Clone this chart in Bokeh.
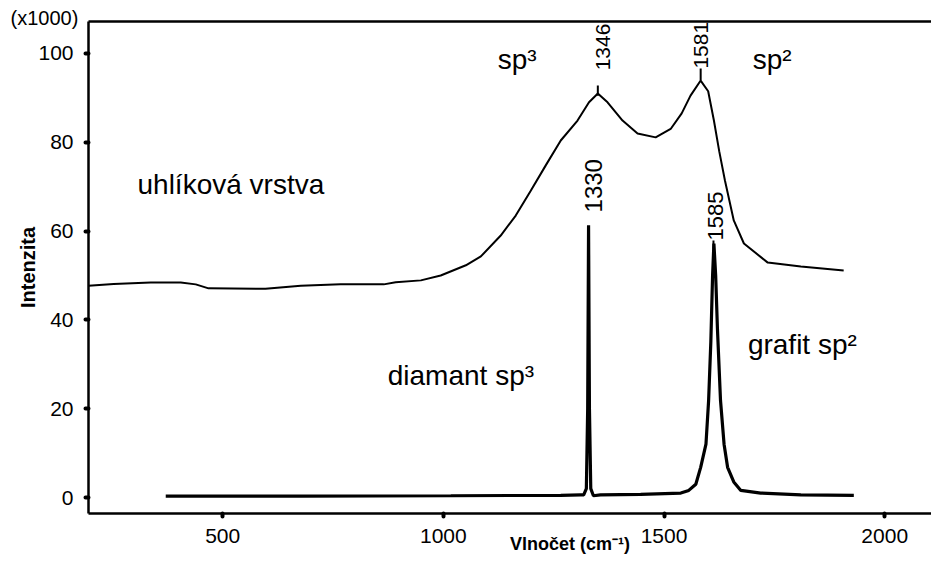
from bokeh.plotting import figure
from bokeh.models import Range1d, LinearAxis, FixedTicker, Label
from bokeh.embed import file_html
from bokeh.resources import INLINE

# ---- data ----
# carbon layer spectrum (uhlíková vrstva), intensity x1000
carbon_x = [196, 253, 337, 405, 439, 468, 597, 677, 767, 865, 892, 949, 994,
            1051, 1085, 1130, 1164, 1198, 1232, 1266, 1304, 1330, 1350, 1372,
            1406, 1440, 1481, 1515, 1540, 1560, 1583, 1600, 1613, 1625, 1638,
            1658, 1681, 1735, 1810, 1907]
carbon_y = [47.7, 48.1, 48.4, 48.4, 48.0, 47.1, 47.0, 47.7, 48.0, 48.0, 48.5, 48.9, 50.0,
            52.3, 54.3, 59.0, 63.5, 69.1, 74.8, 80.4, 84.9, 89.0, 91.0, 89.0,
            84.9, 82.0, 81.1, 83.0, 86.5, 90.5, 93.9, 91.5, 84.9, 78.0, 71.4,
            62.4, 57.2, 52.9, 52.0, 51.1]

# diamond + graphite spectrum
dg_x = [371, 677, 1017, 1266, 1311, 1318, 1324, 1327, 1329, 1331, 1334, 1340,
        1356, 1447, 1538, 1556, 1572, 1583, 1595, 1601, 1606, 1610, 1613, 1617,
        1621, 1628, 1636, 1644, 1658, 1674, 1719, 1810, 1930]
dg_y = [0.3, 0.3, 0.4, 0.5, 0.6, 0.6, 2.0, 20.0, 61.3, 20.0, 2.0, 0.4,
        0.6, 0.7, 1.0, 1.6, 3.0, 6.8, 12.0, 21.8, 35.0, 50.0, 57.2, 50.0,
        38.0, 21.8, 12.0, 6.8, 3.5, 1.6, 1.0, 0.6, 0.5]

x_ticks = [500, 1000, 1500, 2000]
y_ticks = [0, 20, 40, 60, 80, 100]

# peak annotations
peak_labels = ["1346", "1581", "1330", "1585"]
peak_label_x = [1362, 1583, 1341, 1617]
peak_label_y = [96.2, 96.6, 64.2, 57.9]
peak_label_size = ["21px", "21px", "24px", "22px"]
tick_x = [1350, 1583, 1612]
tick_y0 = [90.5, 94.0, 56.0]
tick_y1 = [92.8, 96.6, 57.9]

FONT = "Liberation Sans"
NB = "\u00a0"

p = figure(width=931, height=568,
           x_range=Range1d(196, 2106), y_range=Range1d(-3.6, 107.2),
           output_backend="svg", toolbar_location=None,
           min_border_left=88, min_border_right=0,
           min_border_top=21, min_border_bottom=55)
p.outline_line_color = None
p.grid.visible = False
p.background_fill_color = "white"
p.border_fill_color = "white"

# "(x1000)" multiplier shown at the top-left corner, as the plot title
p.title.text = "(x1000)"
p.title.align = "left"
p.title.vertical_align = "middle"
p.title.offset = -78
p.title.standoff = -17
p.title.text_font = FONT
p.title.text_font_style = "normal"
p.title.text_font_size = "20px"
p.title.text_color = "black"

for ax in (p.xaxis[0], p.yaxis[0]):
    ax.axis_line_width = 2.5
    ax.axis_line_color = "black"
    ax.major_tick_in = 0
    ax.major_tick_out = 3
    ax.major_tick_line_width = 4
    ax.major_tick_line_cap = "round"
    ax.minor_tick_line_color = None
    ax.major_label_text_font = FONT
    ax.major_label_text_font_size = "21px"
    ax.major_label_text_color = "black"
    ax.major_label_standoff = 12

p.xaxis[0].ticker = FixedTicker(ticks=x_ticks)
p.yaxis[0].ticker = FixedTicker(ticks=y_ticks)

p.yaxis[0].axis_label = "Intenzita"
p.yaxis[0].axis_label_text_font = FONT
p.yaxis[0].axis_label_text_font_style = "bold"
p.yaxis[0].axis_label_text_font_size = "15pt"
p.yaxis[0].axis_label_text_color = "black"
p.yaxis[0].axis_label_standoff = -4

# x title sits on the tick-label row, between 1000 and 1500
p.xaxis[0].axis_label = NB * 24 + "Vlnočet (cm⁻¹)"
p.xaxis[0].axis_label_text_font = FONT
p.xaxis[0].axis_label_text_font_style = "bold"
p.xaxis[0].axis_label_text_font_size = "18px"
p.xaxis[0].axis_label_text_color = "black"
p.xaxis[0].axis_label_standoff = -12

top = LinearAxis(ticker=FixedTicker(ticks=[]), axis_line_width=2.5,
                 major_tick_line_color=None, minor_tick_line_color=None,
                 major_label_text_font_size="0px")
p.add_layout(top, "above")

p.line(carbon_x, carbon_y, line_color="black", line_width=2)
p.line(dg_x, dg_y, line_color="black", line_width=3.2)

p.segment(x0=tick_x, y0=tick_y0, x1=tick_x, y1=tick_y1, line_color="black", line_width=2)

for t, x, y, s in zip(peak_labels, peak_label_x, peak_label_y, peak_label_size):
    p.add_layout(Label(x=x, y=y, text=t, angle=90, angle_units="deg",
                       text_align="left", text_baseline="middle",
                       text_font=FONT, text_font_size=s, text_color="black"))

texts = [("sp³", 1123, 98.7), ("sp²", 1701, 98.7), ("uhlíková vrstva", 307, 70.5),
         ("diamant sp³", 874, 27.5), ("grafit sp²", 1690, 34.5)]
for t, x, y in texts:
    p.add_layout(Label(x=x, y=y, text=t, text_align="left", text_baseline="alphabetic",
                       text_font=FONT, text_font_size="28px", text_color="black"))

open("out.html", "w").write(file_html(p, INLINE))
